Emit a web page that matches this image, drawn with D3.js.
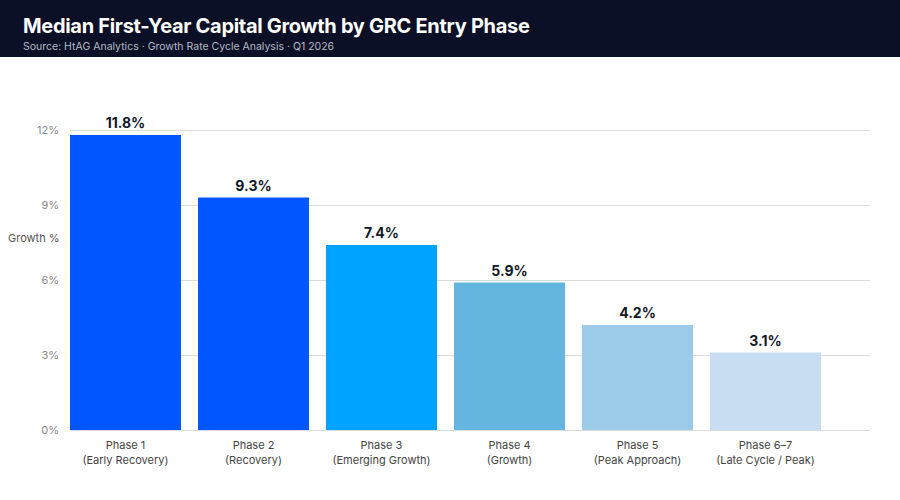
<!DOCTYPE html>
<html>
<head>
<meta charset="utf-8">
<script src="https://cdn.jsdelivr.net/npm/d3@7"></script>
<style>
  html, body { margin: 0; padding: 0; background: #fff; }
  svg { display: block; font-family: Inter, "Noto Sans", sans-serif; }
</style>
</head>
<body>
<div id="chart"></div>
<script>
// data
var phases = ["Phase 1", "Phase 2", "Phase 3", "Phase 4", "Phase 5", "Phase 6\u20137"];
var phaseNames = ["(Early Recovery)", "(Recovery)", "(Emerging Growth)", "(Growth)", "(Peak Approach)", "(Late Cycle / Peak)"];
var growth = [11.8, 9.3, 7.4, 5.9, 4.2, 3.1];
var yTicks = [0, 3, 6, 9, 12];
var barColors = ["#0057ff", "#0057ff", "#00a3ff", "#64b5e0", "#9bcbe9", "#c8dcf2"];

var width = 900,
    height = 500;

var svg = d3.select("#chart").append("svg")
    .attr("width", width)
    .attr("height", height);

// header band
svg.append("rect")
    .attr("width", width)
    .attr("height", 57)
    .attr("fill", "#0b1026");

svg.append("text")
    .attr("x", 23)
    .attr("y", 33)
    .attr("fill", "#fff")
    .attr("font-size", 20)
    .attr("font-weight", 700)
    .attr("letter-spacing", -0.3)
    .text("Median First-Year Capital Growth by GRC Entry Phase");

svg.append("text")
    .attr("x", 23)
    .attr("y", 50)
    .attr("fill", "#b4b8c4")
    .attr("font-size", 10.5)
    .text("Source: HtAG Analytics \u00b7 Growth Rate Cycle Analysis \u00b7 Q1 2026");

var x = d3.scaleBand()
    .domain(phases)
    .range([70, 821])
    .paddingInner(0.133)
    .paddingOuter(0);

var y = d3.scaleLinear()
    .domain([0, 12])
    .range([430, 130]);

// gridlines
svg.append("g").selectAll("line")
    .data(yTicks)
    .enter().append("line")
    .attr("x1", 70)
    .attr("x2", 870)
    .attr("y1", function (d) { return y(d) + 0.5; })
    .attr("y2", function (d) { return y(d) + 0.5; })
    .attr("stroke", "#dcdcdc")
    .attr("stroke-width", 1);

// y tick labels
svg.append("g").selectAll("text")
    .data(yTicks)
    .enter().append("text")
    .attr("x", 59)
    .attr("y", function (d) { return y(d); })
    .attr("dy", "0.35em")
    .attr("text-anchor", "end")
    .attr("fill", "#8a8a8a")
    .attr("font-size", 11)
    .text(function (d) { return d + "%"; });

svg.append("text")
    .attr("x", 8)
    .attr("y", 238)
    .attr("dy", "0.35em")
    .attr("fill", "#555")
    .attr("font-size", 11)
    .text("Growth %");

// bars
var bars = svg.append("g").selectAll("g.bar")
    .data(growth)
    .enter().append("g")
    .attr("class", "bar");

bars.append("rect")
    .attr("x", function (d, i) { return x(phases[i]); })
    .attr("y", function (d) { return y(d); })
    .attr("width", x.bandwidth())
    .attr("height", function (d) { return y(0) - y(d); })
    .attr("fill", function (d, i) { return barColors[i]; });

bars.append("text")
    .attr("x", function (d, i) { return x(phases[i]) + x.bandwidth() / 2; })
    .attr("y", function (d) { return y(d) - 7; })
    .attr("text-anchor", "middle")
    .attr("fill", "#111827")
    .attr("font-size", 14)
    .attr("font-weight", 700)
    .text(function (d) { return d.toFixed(1) + "%"; });

// x labels
var xl = svg.append("g").selectAll("text")
    .data(phases)
    .enter().append("text")
    .attr("text-anchor", "middle")
    .attr("fill", "#444")
    .attr("font-size", 11)
    .attr("transform", function (d) { return "translate(" + (x(d) + x.bandwidth() / 2) + ",449)"; });

xl.append("tspan")
    .attr("x", 0)
    .attr("y", 0)
    .text(function (d) { return d; });

xl.append("tspan")
    .attr("x", 0)
    .attr("y", 15)
    .text(function (d, i) { return phaseNames[i]; });
</script>
</body>
</html>
